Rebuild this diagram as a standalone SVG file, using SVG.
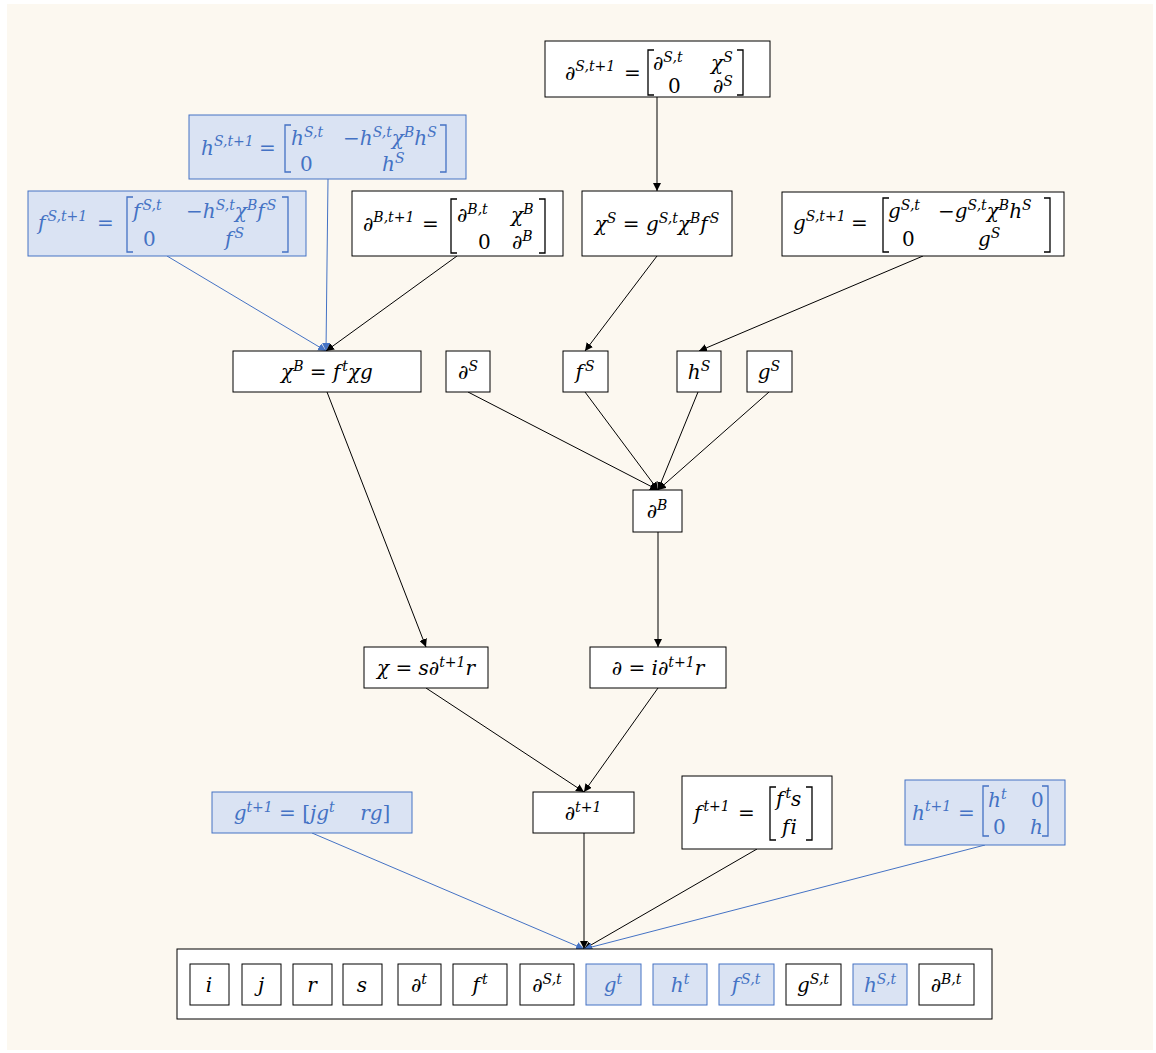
<svg xmlns="http://www.w3.org/2000/svg" width="1156" height="1053" viewBox="0 0 1156 1053">
<style>
text{font-family:"DejaVu Serif","Liberation Serif",serif;font-style:italic;font-size:20px;fill:#000;font-variant-ligatures:none}
.bt{fill:#4472C4}
.s{font-size:14px}
.u{font-style:normal}
.box{fill:#fff;stroke:#000;stroke-width:1}
.bbox{fill:#DAE3F3;stroke:#4472C4;stroke-width:1}
.br{fill:none;stroke:#000;stroke-width:1.3}
.bbr{fill:none;stroke:#4472C4;stroke-width:1.3}
.c{fill:none;stroke:#000;stroke-width:1}
.cb{fill:none;stroke:#4472C4;stroke-width:1}
</style>
<defs>
<marker id="ak" markerUnits="userSpaceOnUse" markerWidth="10" markerHeight="8" refX="8" refY="4" orient="auto"><path d="M0,0 L8,4 L0,8 z" fill="#000"/></marker>
<marker id="ab" markerUnits="userSpaceOnUse" markerWidth="10" markerHeight="8" refX="8" refY="4" orient="auto"><path d="M0,0 L8,4 L0,8 z" fill="#4472C4"/></marker>
</defs>
<rect x="0" y="0" width="1156" height="1053" fill="#fff"/>
<rect x="7" y="4" width="1146" height="1046" fill="#FCF8F0"/>

<g id="connectors">
<line class="c" x1="657" y1="97" x2="657" y2="191" marker-end="url(#ak)"/>
<line class="cb" x1="328" y1="179" x2="326" y2="351" marker-end="url(#ab)"/>
<line class="cb" x1="167" y1="256" x2="326" y2="351" marker-end="url(#ab)"/>
<line class="c" x1="457" y1="256" x2="326" y2="351" marker-end="url(#ak)"/>
<line class="c" x1="657" y1="256" x2="585" y2="351" marker-end="url(#ak)"/>
<line class="c" x1="923" y1="256" x2="699" y2="351" marker-end="url(#ak)"/>
<line class="c" x1="468" y1="392" x2="658" y2="490" marker-end="url(#ak)"/>
<line class="c" x1="585" y1="392" x2="658" y2="490" marker-end="url(#ak)"/>
<line class="c" x1="698" y1="392" x2="658" y2="490" marker-end="url(#ak)"/>
<line class="c" x1="769" y1="392" x2="658" y2="490" marker-end="url(#ak)"/>
<line class="c" x1="327" y1="392" x2="426" y2="647" marker-end="url(#ak)"/>
<line class="c" x1="658" y1="532" x2="658" y2="647" marker-end="url(#ak)"/>
<line class="c" x1="426" y1="688" x2="584" y2="792" marker-end="url(#ak)"/>
<line class="c" x1="658" y1="688" x2="584" y2="792" marker-end="url(#ak)"/>
<line class="cb" x1="312" y1="833" x2="584" y2="949" marker-end="url(#ab)"/>
<line class="c" x1="584" y1="833" x2="584" y2="949" marker-end="url(#ak)"/>
<line class="c" x1="757" y1="849" x2="584" y2="949" marker-end="url(#ak)"/>
<line class="cb" x1="985" y1="845" x2="584" y2="949" marker-end="url(#ab)"/>
</g>

<g id="dS_t1">
<rect class="box" x="545" y="41" width="225" height="56"/>
<text x="565" y="80">∂<tspan class="s" dy="-9">S,t+1</tspan></text>
<text class="u" x="624" y="80">=</text>
<path class="br" d="M654,50 h-6 v45 h6"/>
<text x="653" y="70">∂<tspan class="s" dy="-8">S,t</tspan></text>
<text x="711" y="70">χ<tspan class="s" dy="-8">S</tspan></text>
<text class="u" x="668" y="93">0</text>
<text x="713" y="93">∂<tspan class="s" dy="-7">S</tspan></text>
<path class="br" d="M737,50 h6 v45 h-6"/>
</g>

<g id="hS_t1">
<rect class="bbox" x="189" y="115" width="277" height="64"/>
<text class="bt" x="201" y="155">h<tspan class="s" dy="-9">S,t+1</tspan></text>
<text class="bt u" x="259" y="155">=</text>
<path class="bbr" d="M291,125 h-6 v47 h6"/>
<text class="bt" x="291" y="145">h<tspan class="s" dy="-8">S,t</tspan></text>
<text class="bt" x="343" y="145">−h<tspan class="s" dy="-8">S,t</tspan><tspan dy="8">χ</tspan><tspan class="s" dy="-8">B</tspan><tspan dy="8">h</tspan><tspan class="s" dy="-8">S</tspan></text>
<text class="bt u" x="300" y="171">0</text>
<text class="bt" x="382" y="171">h<tspan class="s" dy="-8">S</tspan></text>
<path class="bbr" d="M440,125 h6 v47 h-6"/>
</g>

<g id="fS_t1">
<rect class="bbox" x="28" y="191" width="278" height="65"/>
<text class="bt" x="38" y="230">f<tspan class="s" dy="-9" dx="2">S,t+1</tspan></text>
<text class="bt u" x="97" y="230">=</text>
<path class="bbr" d="M133,197 h-6 v55 h6"/>
<text class="bt" x="133" y="218">f<tspan class="s" dy="-8" dx="2">S,t</tspan></text>
<text class="bt" x="186" y="218">−h<tspan class="s" dy="-8">S,t</tspan><tspan dy="8">χ</tspan><tspan class="s" dy="-8">B</tspan><tspan dy="8">f</tspan><tspan class="s" dy="-8" dx="2">S</tspan></text>
<text class="bt u" x="143" y="246">0</text>
<text class="bt" x="225" y="246">f<tspan class="s" dy="-8" dx="2">S</tspan></text>
<path class="bbr" d="M282,197 h6 v55 h-6"/>
</g>

<g id="dB_t1">
<rect class="box" x="352" y="191" width="211" height="65"/>
<text x="363" y="231">∂<tspan class="s" dy="-9">B,t+1</tspan></text>
<text class="u" x="422" y="231">=</text>
<path class="br" d="M457,199 h-6 v54 h6"/>
<text x="457" y="222">∂<tspan class="s" dy="-8">B,t</tspan></text>
<text x="511" y="222">χ<tspan class="s" dy="-8">B</tspan></text>
<text class="u" x="478" y="249">0</text>
<text x="512" y="249">∂<tspan class="s" dy="-8">B</tspan></text>
<path class="br" d="M539,199 h6 v54 h-6"/>
</g>

<g id="chiS">
<rect class="box" x="582" y="191" width="150" height="65"/>
<text x="657" y="231" text-anchor="middle">χ<tspan class="s" dy="-8">S</tspan><tspan dy="8"> = g</tspan><tspan class="s" dy="-8">S,t</tspan><tspan dy="8">χ</tspan><tspan class="s" dy="-8">B</tspan><tspan dy="8">f</tspan><tspan class="s" dy="-8" dx="2">S</tspan></text>
</g>

<g id="gS_t1">
<rect class="box" x="782" y="192" width="282" height="64"/>
<text x="793" y="230">g<tspan class="s" dy="-9">S,t+1</tspan></text>
<text class="u" x="851" y="230">=</text>
<path class="br" d="M889,198 h-6 v54 h6"/>
<text x="888" y="218">g<tspan class="s" dy="-8">S,t</tspan></text>
<text x="938" y="218">−g<tspan class="s" dy="-8">S,t</tspan><tspan dy="8">χ</tspan><tspan class="s" dy="-8">B</tspan><tspan dy="8">h</tspan><tspan class="s" dy="-8">S</tspan></text>
<text class="u" x="902" y="246">0</text>
<text x="978" y="246">g<tspan class="s" dy="-8">S</tspan></text>
<path class="br" d="M1044,198 h6 v54 h-6"/>
</g>

<g id="chiB">
<rect class="box" x="233" y="351" width="188" height="41"/>
<text x="327" y="379" text-anchor="middle">χ<tspan class="s" dy="-8">B</tspan><tspan dy="8"> = f</tspan><tspan class="s" dy="-8" dx="2">t</tspan><tspan dy="8">χg</tspan></text>
</g>
<g id="dS">
<rect class="box" x="446" y="351" width="44" height="41"/>
<text x="468" y="379" text-anchor="middle">∂<tspan class="s" dy="-8">S</tspan></text>
</g>
<g id="fS">
<rect class="box" x="563" y="351" width="45" height="41"/>
<text x="585" y="379" text-anchor="middle">f<tspan class="s" dy="-8" dx="2">S</tspan></text>
</g>
<g id="hS">
<rect class="box" x="677" y="351" width="44" height="41"/>
<text x="699" y="379" text-anchor="middle">h<tspan class="s" dy="-8">S</tspan></text>
</g>
<g id="gS">
<rect class="box" x="747" y="351" width="45" height="41"/>
<text x="769" y="379" text-anchor="middle">g<tspan class="s" dy="-8">S</tspan></text>
</g>

<g id="dB">
<rect class="box" x="633" y="490" width="49" height="42"/>
<text x="657" y="518" text-anchor="middle">∂<tspan class="s" dy="-8">B</tspan></text>
</g>

<g id="chi">
<rect class="box" x="364" y="647" width="124" height="41"/>
<text x="426" y="675" text-anchor="middle">χ = s∂<tspan class="s" dy="-8">t+1</tspan><tspan dy="8">r</tspan></text>
</g>
<g id="d">
<rect class="box" x="590" y="647" width="136" height="41"/>
<text x="658" y="675" text-anchor="middle">∂ = i∂<tspan class="s" dy="-8">t+1</tspan><tspan dy="8">r</tspan></text>
</g>

<g id="g_t1">
<rect class="bbox" x="212" y="792" width="200" height="41"/>
<text class="bt" x="312" y="820" text-anchor="middle">g<tspan class="s" dy="-8">t+1</tspan><tspan dy="8"> =  </tspan><tspan class="u">[</tspan><tspan>jg</tspan><tspan class="s" dy="-8">t</tspan><tspan dy="8" xml:space="preserve">    rg</tspan><tspan class="u">]</tspan></text>
</g>
<g id="d_t1">
<rect class="box" x="533" y="792" width="101" height="41"/>
<text x="583" y="820" text-anchor="middle">∂<tspan class="s" dy="-8">t+1</tspan></text>
</g>
<g id="f_t1">
<rect class="box" x="682" y="776" width="150" height="73"/>
<text x="694" y="820">f<tspan class="s" dy="-9" dx="2">t+1</tspan></text>
<text class="u" x="738" y="820">=</text>
<path class="br" d="M776,787 h-6 v53 h6"/>
<text x="776" y="806">f<tspan class="s" dy="-8" dx="2">t</tspan><tspan dy="8">s</tspan></text>
<text x="782" y="834">f<tspan dx="1">i</tspan></text>
<path class="br" d="M806,787 h6 v53 h-6"/>
</g>
<g id="h_t1">
<rect class="bbox" x="905" y="780" width="160" height="65"/>
<text class="bt" x="912" y="820">h<tspan class="s" dy="-9">t+1</tspan></text>
<text class="bt u" x="958" y="820">=</text>
<path class="bbr" d="M989,786 h-6 v50 h6"/>
<text class="bt" x="988" y="807">h<tspan class="s" dy="-8">t</tspan></text>
<text class="bt u" x="1031" y="807">0</text>
<text class="bt u" x="993" y="834">0</text>
<text class="bt" x="1030" y="834">h</text>
<path class="bbr" d="M1042,786 h6 v50 h-6"/>
</g>

<g id="state">
<rect class="box" x="177" y="949" width="815" height="70"/>
<g id="s_i"><rect class="box" x="190" y="964" width="39" height="41"/><text x="209" y="992" text-anchor="middle">i</text></g>
<g id="s_j"><rect class="box" x="242" y="964" width="39" height="41"/><text x="261" y="992" text-anchor="middle">j</text></g>
<g id="s_r"><rect class="box" x="293" y="964" width="39" height="41"/><text x="312" y="992" text-anchor="middle">r</text></g>
<g id="s_s"><rect class="box" x="343" y="964" width="39" height="41"/><text x="362" y="992" text-anchor="middle">s</text></g>
<g id="s_dt"><rect class="box" x="398" y="964" width="43" height="41"/><text x="419" y="992" text-anchor="middle">∂<tspan class="s" dy="-8">t</tspan></text></g>
<g id="s_ft"><rect class="box" x="453" y="964" width="54" height="41"/><text x="480" y="992" text-anchor="middle">f<tspan class="s" dy="-8" dx="2">t</tspan></text></g>
<g id="s_dSt"><rect class="box" x="520" y="964" width="54" height="41"/><text x="547" y="992" text-anchor="middle">∂<tspan class="s" dy="-8">S,t</tspan></text></g>
<g id="s_gt"><rect class="bbox" x="586" y="964" width="55" height="41"/><text class="bt" x="613" y="992" text-anchor="middle">g<tspan class="s" dy="-8">t</tspan></text></g>
<g id="s_ht"><rect class="bbox" x="653" y="964" width="54" height="41"/><text class="bt" x="680" y="992" text-anchor="middle">h<tspan class="s" dy="-8">t</tspan></text></g>
<g id="s_fSt"><rect class="bbox" x="719" y="964" width="55" height="41"/><text class="bt" x="746" y="992" text-anchor="middle">f<tspan class="s" dy="-8" dx="2">S,t</tspan></text></g>
<g id="s_gSt"><rect class="box" x="786" y="964" width="55" height="41"/><text x="813" y="992" text-anchor="middle">g<tspan class="s" dy="-8">S,t</tspan></text></g>
<g id="s_hSt"><rect class="bbox" x="853" y="964" width="54" height="41"/><text class="bt" x="880" y="992" text-anchor="middle">h<tspan class="s" dy="-8">S,t</tspan></text></g>
<g id="s_dBt"><rect class="box" x="919" y="964" width="55" height="41"/><text x="946" y="992" text-anchor="middle">∂<tspan class="s" dy="-8">B,t</tspan></text></g>
</g>
</svg>
